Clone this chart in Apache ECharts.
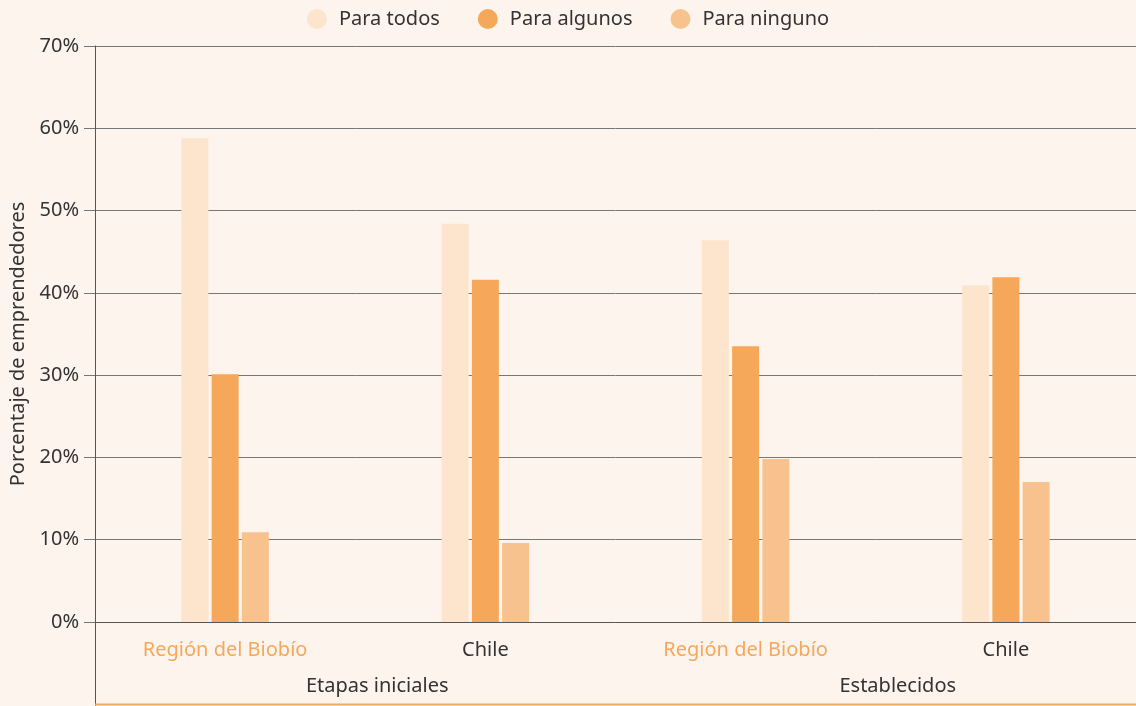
<!DOCTYPE html>
<html><head><meta charset="utf-8">
<script src="https://cdn.jsdelivr.net/npm/echarts@6/dist/echarts.min.js"></script>
<style>html,body{margin:0;padding:0;background:#fdf4ee}#c{width:1136px;height:706px}</style>
</head><body><div id="c"></div>
<script>
const categories = ['Región del Biobío', 'Chile', 'Región del Biobío', 'Chile'];
const groups = ['Etapas iniciales', 'Establecidos'];
const seriesNames = ['Para todos', 'Para algunos', 'Para ninguno'];
const paraTodos = [58.8, 48.4, 46.4, 40.9];
const paraAlgunos = [30.1, 41.6, 33.5, 41.9];
const paraNinguno = [10.9, 9.6, 19.8, 17.0];
const colors = ['#fde4cc', '#f5a85a', '#f8c28e'];
const font = 'Noto Sans';
const textColor = '#333333';

const chart = echarts.init(document.getElementById('c'), null, {renderer: 'canvas'});
const mk = (name, data, color) => ({
  name, type: 'bar', data, barWidth: 27, barGap: '12%',
  itemStyle: {color}, emphasis: {disabled: true}
});
chart.setOption({
  backgroundColor: '#fdf4ee',
  animation: false,
  textStyle: {fontFamily: font},
  legend: {
    top: 4, left: 'center', icon: 'circle', itemWidth: 20, itemHeight: 20, itemGap: 38,
    textStyle: {fontSize: 20, color: textColor, fontFamily: font, padding: [0, 0, 0, 7]},
    data: seriesNames
  },
  grid: {left: 95, right: 0, top: 46, bottom: 84, containLabel: false, outerBoundsMode: 'none'},
  xAxis: [{
    type: 'category', data: categories,
    axisLine: {show: true, lineStyle: {color: '#555', width: 1}},
    axisTick: {show: false},
    axisLabel: {
      margin: 18, fontSize: 20, fontFamily: font,
      color: (v, i) => (v === 'Chile' ? textColor : '#f5a85a')
    }
  }, {
    type: 'category', data: groups, position: 'bottom',
    axisLine: {show: false}, axisTick: {show: false},
    axisLabel: {margin: 54, fontSize: 20, fontFamily: font, color: textColor, padding: [0, 0, 0, 44]}
  }],
  yAxis: {
    type: 'value', min: 0, max: 70, interval: 10,
    name: 'Porcentaje de emprendedores', nameLocation: 'middle', nameGap: 66,
    nameTextStyle: {fontSize: 20, color: textColor, fontFamily: font, padding: [0, 20, 0, 0]},
    axisLine: {show: true, lineStyle: {color: '#555', width: 1}},
    axisTick: {show: true, length: 11, lineStyle: {color: '#777'}},
    axisLabel: {formatter: '{value}%', fontSize: 20, color: textColor, margin: 16, fontFamily: font},
    splitLine: {show: true, lineStyle: {color: '#777', width: 1}}
  },
  series: [
    mk(seriesNames[0], paraTodos, colors[0]),
    mk(seriesNames[1], paraAlgunos, colors[1]),
    mk(seriesNames[2], paraNinguno, colors[2])
  ],
  graphic: [
    {type: 'line', shape: {x1: 95.5, y1: 622, x2: 95.5, y2: 706}, style: {stroke: '#555', lineWidth: 1}},
    {type: 'line', shape: {x1: 95, y1: 704.5, x2: 1136, y2: 704.5}, style: {stroke: '#f5a85a', lineWidth: 2}}
  ]
});
</script></body></html>
